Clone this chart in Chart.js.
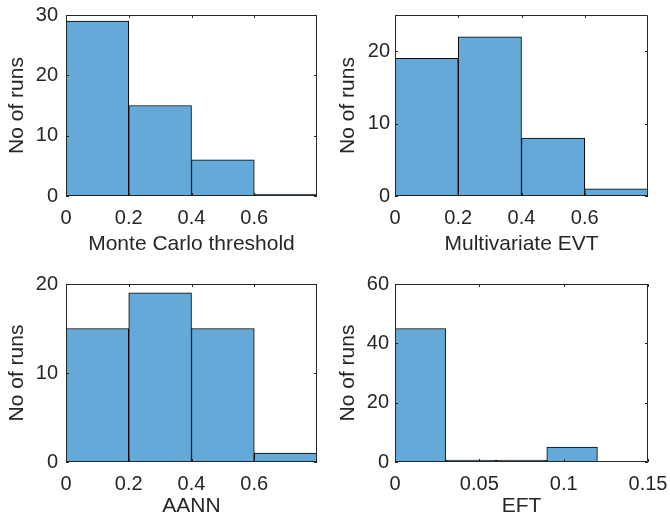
<!DOCTYPE html>
<html>
<head>
<meta charset="utf-8">
<script src="https://cdn.jsdelivr.net/npm/chart.js@4.4.1/dist/chart.umd.min.js"></script>
<style>
    body { margin: 0; background: #fff; }
    #figure { position: relative; width: 670px; height: 522px; }
    .panel { position: absolute; width: 335px; height: 261px; }
</style>
</head>
<body>
<div id="figure">
    <div class="panel" style="left:0;top:0"><canvas id="mc" width="335" height="261"></canvas></div>
    <div class="panel" style="left:335px;top:0"><canvas id="mv" width="335" height="261"></canvas></div>
    <div class="panel" style="left:0;top:261px"><canvas id="aann" width="335" height="261"></canvas></div>
    <div class="panel" style="left:335px;top:261px"><canvas id="eft" width="335" height="261"></canvas></div>
</div>
<script>
// Bin edges
const binEdges = [0, 0.2, 0.4, 0.6, 0.8];
const eftBinEdges = [0, 0.03, 0.06, 0.09, 0.12];

// Counts per bin
const monteCarloCounts = [29, 15, 6, 0];
const multivariateCounts = [19, 22, 8, 1];
const aannCounts = [15, 19, 15, 1];
const eftCounts = [45, 0, 0, 5];

// Tick values
const binTicks = [0, 0.2, 0.4, 0.6];
const eftTicks = [0, 0.05, 0.1, 0.15];
const monteCarloYTicks = [0, 10, 20, 30];
const multivariateYTicks = [0, 10, 20];
const aannYTicks = [0, 10, 20];
const eftYTicks = [0, 20, 40, 60];

const AXIS_COLOR = '#262626';
const BAR_COLOR = 'rgb(100, 169, 215)';

Chart.defaults.font.family = "'Liberation Sans', Arial, Helvetica, sans-serif";
Chart.defaults.font.size = 20;
Chart.defaults.color = AXIS_COLOR;

// Box around the plot area with inward ticks on all four sides
const boxAxes = {
    id: 'boxAxes',
    afterDatasetsDraw(chart) {
        const { ctx, chartArea: a, scales } = chart;
        const len = 3;
        ctx.save();
        ctx.strokeStyle = AXIS_COLOR;
        ctx.lineWidth = 1;
        ctx.beginPath();
        ctx.rect(a.left + 0.5, a.top + 0.5, a.right - a.left - 1, a.bottom - a.top - 1);
        scales.x.ticks.forEach(t => {
            const px = Math.round(scales.x.getPixelForValue(t.value)) + 0.5;
            ctx.moveTo(px, a.bottom); ctx.lineTo(px, a.bottom - len);
            ctx.moveTo(px, a.top); ctx.lineTo(px, a.top + len);
        });
        scales.y.ticks.forEach(t => {
            const py = Math.round(scales.y.getPixelForValue(t.value)) + 0.5;
            ctx.moveTo(a.left, py); ctx.lineTo(a.left + len, py);
            ctx.moveTo(a.right, py); ctx.lineTo(a.right - len, py);
        });
        ctx.stroke();
        ctx.restore();
    }
};

// Keep label overhang from shrinking the plot area
function noOverhang(s) {
    s.paddingLeft = 0;
    s.paddingRight = 0;
    s.paddingTop = 0;
    s.paddingBottom = 0;
}

function histogram(id, edges, counts, xTicks, xMax, yTicks, yMax, xTitle, box) {
    const points = counts.map((c, i) => ({ x: (edges[i] + edges[i + 1]) / 2, y: c }));
    const fmt = v => String(+Number(v).toFixed(4));

    return new Chart(document.getElementById(id), {
        type: 'bar',
        data: {
            datasets: [{
                data: points,
                backgroundColor: BAR_COLOR,
                borderColor: '#000',
                borderWidth: 1,
                borderSkipped: false,
                minBarLength: 2,
                barPercentage: 1,
                categoryPercentage: 1
            }]
        },
        options: {
            responsive: false,
            animation: false,
            events: [],
            layout: { padding: { top: box.top, right: box.right, left: 0, bottom: 0 } },
            plugins: { legend: { display: false }, tooltip: { enabled: false } },
            scales: {
                x: {
                    type: 'linear',
                    min: 0,
                    max: xMax,
                    offset: false,
                    grid: { display: false, drawTicks: false, offset: false },
                    border: { display: false },
                    afterBuildTicks: s => { s.ticks = xTicks.map(v => ({ value: v })); },
                    afterFit: s => { s.height = box.xAxisHeight; noOverhang(s); },
                    ticks: { padding: 10, maxRotation: 0, autoSkip: false, callback: fmt },
                    title: {
                        display: true,
                        text: xTitle,
                        font: { size: 21 },
                        padding: { top: 0, bottom: box.xTitlePad }
                    }
                },
                y: {
                    min: 0,
                    max: yMax,
                    grid: { display: false, drawTicks: false },
                    border: { display: false },
                    afterBuildTicks: s => { s.ticks = yTicks.map(v => ({ value: v })); },
                    afterFit: s => { s.width = box.yAxisWidth; noOverhang(s); },
                    ticks: { padding: box.yTickPad, callback: fmt },
                    title: {
                        display: true,
                        text: 'No of runs',
                        font: { size: 21 },
                        padding: { top: box.yTitlePad, bottom: 0 }
                    }
                }
            }
        },
        plugins: [boxAxes]
    });
}

const topLeft = { top: 15, right: 18, yAxisWidth: 66, xAxisHeight: 65, yTickPad: 8, yTitlePad: 5, xTitlePad: 4 };
const topRight = { top: 15, right: 22, yAxisWidth: 60, xAxisHeight: 65, yTickPad: 5, yTitlePad: 1, xTitlePad: 4 };
const bottomLeft = { top: 23, right: 18, yAxisWidth: 66, xAxisHeight: 60, yTickPad: 8, yTitlePad: 5, xTitlePad: 3 };
const bottomRight = { top: 23, right: 22, yAxisWidth: 60, xAxisHeight: 60, yTickPad: 6, yTitlePad: 1, xTitlePad: 3 };

histogram('mc', binEdges, monteCarloCounts, binTicks, 0.8, monteCarloYTicks, 30, 'Monte Carlo threshold', topLeft);
histogram('mv', binEdges, multivariateCounts, binTicks, 0.8, multivariateYTicks, 25, 'Multivariate EVT', topRight);
histogram('aann', binEdges, aannCounts, binTicks, 0.8, aannYTicks, 20, 'AANN', bottomLeft);
histogram('eft', eftBinEdges, eftCounts, eftTicks, 0.15, eftYTicks, 60, 'EFT', bottomRight);
</script>
</body>
</html>
